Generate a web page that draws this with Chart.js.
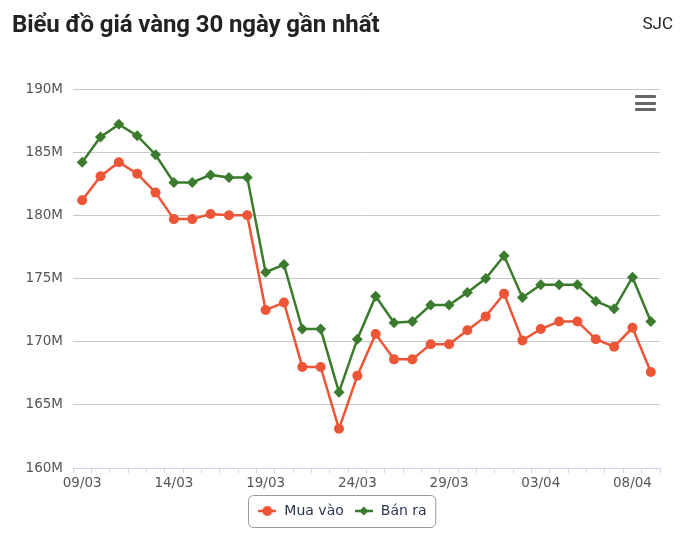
<!DOCTYPE html>
<html>
<head>
<meta charset="utf-8">
<script src="https://cdn.jsdelivr.net/npm/chart.js"></script>
<style>
  html, body { margin: 0; padding: 0; background: #fff; }
  #wrap { position: relative; width: 700px; height: 538px; overflow: hidden; }
  #title { position: absolute; left: 12px; top: 12px; font: bold 24px/24px Roboto, sans-serif; color: #222; white-space: nowrap; letter-spacing: -0.1px; }
  #brand { position: absolute; right: 27px; top: 15px; font: 17px/17px Roboto, sans-serif; color: #222; }
  #menu { position: absolute; left: 635px; top: 95px; width: 21px; }
  #menu span { display: block; height: 3px; background: #666; margin-bottom: 3.5px; border-radius: 1px; }
  #chart { position: absolute; left: 0; top: 0; }
</style>
</head>
<body>
<div id="wrap">
  <canvas id="chart" width="700" height="538"></canvas>
  <div id="title">Biểu đồ giá vàng 30 ngày gần nhất</div>
  <div id="brand">SJC</div>
  <div id="menu"><span></span><span></span><span></span></div>
</div>
<script>
const days = ['09/03', '10/03', '11/03', '12/03', '13/03', '14/03', '15/03', '16/03', '17/03', '18/03',
  '19/03', '20/03', '21/03', '22/03', '23/03', '24/03', '25/03', '26/03', '27/03', '28/03',
  '29/03', '30/03', '31/03', '01/04', '02/04', '03/04', '04/04', '05/04', '06/04', '07/04',
  '08/04', '09/04']

// triệu đồng
const muaVao = [181.2, 183.1, 184.2, 183.3, 181.8, 179.7, 179.7, 180.1, 180.0, 180.0,
  172.5, 173.1, 168.0, 168.0, 163.1, 167.3, 170.6, 168.6, 168.6, 169.8,
  169.8, 170.9, 172.0, 173.8, 170.1, 171.0, 171.6, 171.6, 170.2, 169.6,
  171.1, 167.6]
const banRa = [184.2, 186.2, 187.2, 186.3, 184.8, 182.6, 182.6, 183.2, 183.0, 183.0,
  175.5, 176.1, 171.0, 171.0, 166.0, 170.2, 173.6, 171.5, 171.6, 172.9,
  172.9, 173.9, 175.0, 176.8, 173.5, 174.5, 174.5, 174.5, 173.2, 172.6,
  175.1, 171.6]

const yTicks = [160, 165, 170, 175, 180, 185, 190]

const red = '#ec5535'
const green = '#3b7b2d'

// legend symbol: short line with the marker on it
function legendIcon(color, shape) {
  const c = document.createElement('canvas')
  c.width = 18
  c.height = 12
  const g = c.getContext('2d')
  g.strokeStyle = color
  g.lineWidth = 2.5
  g.beginPath()
  g.moveTo(0, 6)
  g.lineTo(18, 6)
  g.stroke()
  g.fillStyle = color
  g.beginPath()
  if (shape === 'circle') {
    g.arc(9, 6, 5, 0, Math.PI * 2)
  } else {
    g.moveTo(9, 1.5); g.lineTo(13.5, 6); g.lineTo(9, 10.5); g.lineTo(4.5, 6); g.closePath()
  }
  g.fill()
  return c
}

const legendBorder = {
  id: 'legendBorder',
  afterDraw(chart) {
    const boxes = chart.legend && chart.legend.legendHitBoxes
    if (!boxes || !boxes.length) return
    const left = Math.min(...boxes.map(b => b.left)) - 9
    const right = Math.max(...boxes.map(b => b.left + b.width)) + 9
    const top = Math.min(...boxes.map(b => b.top)) - 9
    const bottom = Math.max(...boxes.map(b => b.top + b.height)) + 9
    const ctx = chart.ctx
    ctx.save()
    ctx.strokeStyle = '#999'
    ctx.lineWidth = 1
    ctx.beginPath()
    ctx.roundRect(Math.round(left) + 0.5, Math.round(top) + 0.5, right - left, bottom - top, 5)
    ctx.stroke()
    ctx.restore()
  }
}

new Chart(document.getElementById('chart'), {
  type: 'line',
  data: {
    labels: days,
    datasets: [{
      label: 'Mua vào',
      data: muaVao,
      borderColor: red,
      backgroundColor: red,
      borderWidth: 2.5,
      pointStyle: 'circle',
      pointRadius: 5,
      pointBorderWidth: 0,
      tension: 0
    }, {
      label: 'Bán ra',
      data: banRa,
      borderColor: green,
      backgroundColor: green,
      borderWidth: 2.5,
      pointStyle: 'rectRot',
      pointRadius: 5.5,
      pointBorderWidth: 0,
      tension: 0
    }]
  },
  options: {
    responsive: false,
    animation: false,
    layout: { padding: { left: 24, right: 40, top: 89, bottom: 10 } },
    plugins: {
      tooltip: { enabled: false },
      legend: {
        position: 'bottom',
        labels: {
          font: { family: 'DejaVu Sans', size: 14 },
          color: '#2b3652',
          usePointStyle: true,
          pointStyleWidth: 20,
          padding: 10,
          generateLabels(chart) {
            return chart.data.datasets.map((ds, i) => ({
              text: ds.label,
              datasetIndex: i,
              pointStyle: legendIcon(ds.borderColor, ds.pointStyle),
              fillStyle: ds.borderColor,
              strokeStyle: ds.borderColor,
              lineWidth: 0,
              fontColor: '#2b3652'
            }))
          }
        }
      }
    },
    scales: {
      x: {
        offset: true,
        afterFit(scale) { scale.height = 26 },
        grid: { drawOnChartArea: false, drawTicks: true, tickLength: 5, offset: true, color: '#ccd6eb' },
        border: { display: true, color: '#ccd6eb' },
        ticks: {
          autoSkip: false,
          maxRotation: 0,
          padding: 2,
          color: '#555',
          font: { family: 'DejaVu Sans', size: 13.5 },
          callback: (v, i) => (i % 5 === 0 ? days[i] : '')
        }
      },
      y: {
        min: 160,
        max: 190,
        afterFit(scale) { scale.width = 49 },
        afterBuildTicks(scale) { scale.ticks = yTicks.map(v => ({ value: v })) },
        grid: { color: '#c8c8c8', drawTicks: false },
        border: { display: false },
        ticks: {
          padding: 10,
          color: '#555',
          font: { family: 'DejaVu Sans', size: 13.5 },
          callback: v => v + 'M'
        }
      }
    }
  },
  plugins: [legendBorder]
})
</script>
</body>
</html>
